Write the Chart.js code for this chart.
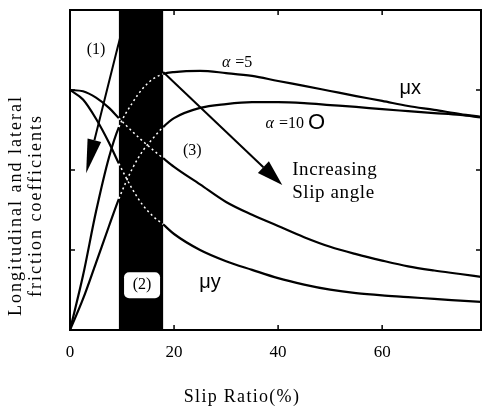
<!DOCTYPE html>
<html>
<head>
<meta charset="utf-8">
<script src="https://cdn.jsdelivr.net/npm/chart.js@4.4.1/dist/chart.umd.min.js"></script>
<style>
  html, body { margin: 0; padding: 0; background: #fff; }
  #wrap { width: 484px; height: 411px; }
</style>
</head>
<body>
<div id="wrap"><canvas id="frictionChart"></canvas></div>
<script>
// slip ratio samples (%)
const slip   = [0, 2.5, 5, 7.5, 9.4, 12, 14, 16, 17.9, 20, 25, 30, 35, 40, 45, 50, 55, 60, 65, 70, 75, 79];
// longitudinal coefficient, slip angle 5 and 10
const muX5   = [0, 0.17, 0.37, 0.54, 0.634, 0.71, 0.755, 0.785, 0.80, 0.806, 0.81, 0.803, 0.794, 0.778, 0.763, 0.747, 0.731, 0.716, 0.70, 0.688, 0.675, 0.666];
const muX10  = [0, 0.097, 0.21, 0.325, 0.41, 0.505, 0.56, 0.60, 0.634, 0.662, 0.694, 0.706, 0.712, 0.712, 0.709, 0.703, 0.697, 0.69, 0.684, 0.678, 0.672, 0.664];
// lateral coefficient
const muYHi  = [0.75, 0.746, 0.726, 0.694, 0.662, 0.62, 0.59, 0.562, 0.537, 0.51, 0.455, 0.40, 0.36, 0.325, 0.29, 0.26, 0.237, 0.217, 0.199, 0.186, 0.175, 0.166];
const muYLo  = [0.75, 0.72, 0.66, 0.585, 0.52, 0.44, 0.39, 0.355, 0.33, 0.30, 0.25, 0.215, 0.188, 0.162, 0.142, 0.126, 0.115, 0.108, 0.103, 0.097, 0.092, 0.088];

const xTicks = [0, 20, 40, 60];
const yTicks = [0.25, 0.5, 0.75];
const band = [9.4, 17.9];   // shaded slip region

const serif = '"Liberation Serif", "Times New Roman", serif';

function inBand(ctx) {
    return ctx.p0.parsed.x >= band[0] - 0.01 && ctx.p1.parsed.x <= band[1] + 0.01;
}

function makeSet(label, values) {
    return {
        label: label,
        data: slip.map((s, i) => ({ x: s, y: values[i] })),
        borderColor: '#000',
        borderWidth: 2.2,
        pointRadius: 0,
        cubicInterpolationMode: 'monotone',
        segment: {
            borderColor: ctx => inBand(ctx) ? '#fff' : '#000',
            borderDash: ctx => inBand(ctx) ? [2, 3] : undefined,
            borderWidth: ctx => inBand(ctx) ? 1.5 : 2.2
        }
    };
}

function arrow(c, x1, y1, x2, y2, len, half) {
    const a = Math.atan2(y2 - y1, x2 - x1);
    const bx = x2 - len * Math.cos(a), by = y2 - len * Math.sin(a);
    c.beginPath();
    c.moveTo(x1, y1);
    c.lineTo(bx, by);
    c.lineWidth = 2;
    c.stroke();
    c.beginPath();
    c.moveTo(x2, y2);
    c.lineTo(bx + half * Math.sin(a), by - half * Math.cos(a));
    c.lineTo(bx - half * Math.sin(a), by + half * Math.cos(a));
    c.closePath();
    c.fill();
}

// italic alpha followed by upright text, left aligned at x
function alphaLabel(c, x, y, rest) {
    c.textAlign = 'left';
    c.font = 'italic 16px ' + serif;
    c.fillText('\u03b1', x, y);
    const w = c.measureText('\u03b1').width;
    c.font = '16px ' + serif;
    c.fillText(rest, x + w + 1, y);
    return x + w + 1 + c.measureText(rest).width;
}

const decor = {
    id: 'decor',
    beforeDatasetsDraw(chart) {
        const c = chart.ctx, a = chart.chartArea, x = chart.scales.x;
        c.save();
        c.fillStyle = '#000';
        const l = x.getPixelForValue(band[0]), r = x.getPixelForValue(band[1]);
        c.fillRect(l, a.top, r - l, a.bottom - a.top);
        c.restore();
    },
    afterDatasetsDraw(chart) {
        const c = chart.ctx, a = chart.chartArea, x = chart.scales.x, y = chart.scales.y;
        const px = v => x.getPixelForValue(v), py = v => y.getPixelForValue(v);
        c.save();
        c.strokeStyle = '#000';
        c.fillStyle = '#000';
        // frame
        c.lineWidth = 2;
        c.strokeRect(a.left, a.top, a.right - a.left, a.bottom - a.top);
        // inward ticks
        c.lineWidth = 1.5;
        c.beginPath();
        xTicks.slice(1).forEach(v => {
            c.moveTo(px(v), a.bottom); c.lineTo(px(v), a.bottom - 5);
            c.moveTo(px(v), a.top); c.lineTo(px(v), a.top + 5);
        });
        yTicks.forEach(v => {
            c.moveTo(a.left, py(v)); c.lineTo(a.left + 5, py(v));
            c.moveTo(a.right, py(v)); c.lineTo(a.right - 5, py(v));
        });
        c.stroke();

        // arrows
        arrow(c, px(9.6), py(0.912), px(3.1), py(0.49), 34, 7);
        arrow(c, px(17.9), py(0.806), px(40.8), py(0.453), 26, 8);

        // (2) box
        const bx = px(13.85), by = py(0.14);
        c.fillStyle = '#fff';
        c.beginPath();
        c.roundRect(bx - 18, by - 13, 36, 26, 5);
        c.fill();

        c.fillStyle = '#000';
        c.textAlign = 'center';
        c.textBaseline = 'middle';
        c.font = '16px ' + serif;
        c.fillText('(1)', px(5), py(0.875));
        c.fillText('(2)', bx, by);
        c.fillText('(3)', px(23.5), py(0.56));

        alphaLabel(c, px(29.2), py(0.834), ' =5');
        const end = alphaLabel(c, px(37.6), py(0.644), ' =10');
        c.font = '22px "Liberation Sans", Arial, sans-serif';
        c.textAlign = 'left';
        c.fillText('O', end + 4, py(0.646));

        c.font = '20px "Liberation Sans", Arial, sans-serif';
        c.textAlign = 'center';
        c.fillText('\u03bcx', px(65.4), py(0.756));
        c.fillText('\u03bcy', px(26.9), py(0.147));

        c.font = '19px ' + serif;
        c.letterSpacing = '0.6px';
        c.textAlign = 'left';
        c.fillText('Increasing', px(42.7), py(0.50));
        c.fillText('Slip angle', px(42.7), py(0.428));

        // axis titles, centred on the canvas
        c.textAlign = 'center';
        c.font = '18px ' + serif;
        c.letterSpacing = '1.3px';
        c.fillText('Slip Ratio(%)', chart.width / 2, 397);
        c.translate(0, chart.height / 2);
        c.rotate(-Math.PI / 2);
        c.letterSpacing = '2px';
        c.fillText('Longitudinal and lateral', 0, 16);
        c.fillText('friction coefficients', 0, 36);
        c.restore();
    }
};

new Chart(document.getElementById('frictionChart'), {
    type: 'line',
    data: {
        datasets: [
            makeSet('\u03bcx \u03b1=5', muX5),
            makeSet('\u03bcx \u03b1=10', muX10),
            makeSet('\u03bcy \u03b1=10', muYHi),
            makeSet('\u03bcy \u03b1=5', muYLo)
        ]
    },
    options: {
        responsive: true,
        maintainAspectRatio: false,
        animation: false,
        layout: { padding: { top: 10, right: 3, left: 0, bottom: 0 } },
        plugins: {
            legend: { display: false },
            tooltip: { enabled: false }
        },
        scales: {
            x: {
                type: 'linear',
                min: 0,
                max: 79,
                afterBuildTicks: s => { s.ticks = xTicks.map(v => ({ value: v })); },
                afterFit: s => { s.height = 81; },
                grid: { display: false, drawTicks: false },
                border: { display: false },
                ticks: {
                    color: '#000',
                    padding: 12,
                    maxRotation: 0,
                    font: { family: serif, size: 17 }
                }
            },
            y: {
                min: 0,
                max: 1,
                afterFit: s => { s.width = 70; },
                grid: { display: false, drawTicks: false },
                border: { display: false },
                ticks: { display: false }
            }
        }
    },
    plugins: [decor]
});
</script>
</body>
</html>
